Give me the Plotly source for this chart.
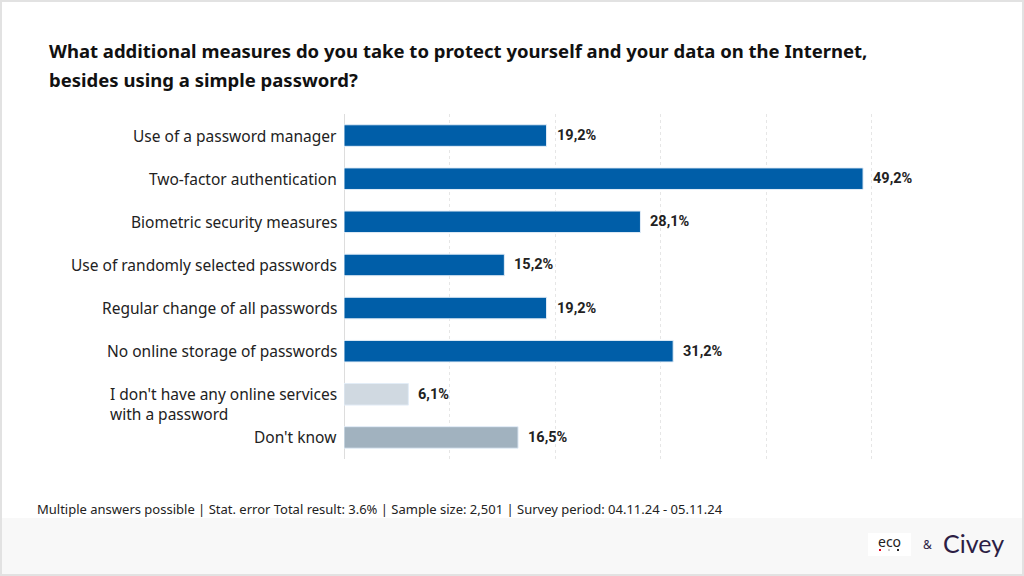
import plotly.graph_objects as go

categories = [
    "Use of a password manager",
    "Two-factor authentication",
    "Biometric security measures",
    "Use of randomly selected passwords",
    "Regular change of all passwords",
    "No online storage of passwords",
    "I don't have any online services<br>with a password",
    "Don't know",
]
values = [19.2, 49.2, 28.1, 15.2, 19.2, 31.2, 6.1, 16.5]
value_labels = ["19,2%", "49,2%", "28,1%", "15,2%", "19,2%", "31,2%", "6,1%", "16,5%"]
bar_colors = ["#005EA8"] * 6 + ["#D0D9E1", "#A1B2BF"]

title_lines = [
    "What additional measures do you take to protect yourself and your data on the Internet,",
    "besides using a simple password?",
]
footer = "Multiple answers possible | Stat. error Total result: 3.6% | Sample size: 2,501 | Survey period: 04.11.24 - 05.11.24"

W, H = 1024, 576
L, R, T, B = 344, 47, 114, 117

fig = go.Figure()
fig.add_trace(go.Bar(
    y=categories, x=values, orientation="h",
    marker=dict(color=bar_colors, line=dict(color="#E3EDF7", width=1)),
    width=0.5, hoverinfo="skip",
))

# value labels
for c, v, t in zip(categories, values, value_labels):
    fig.add_annotation(x=v, y=c, text="<b>" + t + "</b>", showarrow=False, xanchor="left",
                       xshift=8, font=dict(family="Roboto", size=14.5, color="#222222"),
                       xref="x", yref="y")
# category labels
for c in categories:
    multi = "<br>" in c
    fig.add_annotation(x=0, y=c, text=c, showarrow=False, xanchor="right",
                       align="left", xshift=-5, yshift=-10 if multi else 0,
                       font=dict(family="Noto Sans", size=15.5, color="#222222"),
                       xref="x", yref="y")

ph = H - T - B
pw = W - L - R
def px(xp):
    return (xp - L) / pw
def py(yp):
    return (H - B - yp) / ph

# footer background
fig.add_shape(type="rect", xref="paper", yref="paper", x0=px(0), x1=px(W),
              y0=py(H), y1=py(518), fillcolor="#F8F8F8", line=dict(width=0), layer="below")
# frame
fig.add_shape(type="rect", xref="paper", yref="paper", x0=px(1), x1=px(W - 1),
              y0=py(H - 1), y1=py(1), line=dict(color="#E2E2E2", width=2),
              fillcolor="rgba(0,0,0,0)")

fig.add_annotation(xref="paper", yref="paper", x=px(47), y=py(50), text="<b>" + title_lines[0] + "</b>",
                   showarrow=False, xanchor="left", yanchor="middle",
                   font=dict(family="Noto Sans", size=18.5, color="#111111"))
fig.add_annotation(xref="paper", yref="paper", x=px(47), y=py(79), text="<b>" + title_lines[1] + "</b>",
                   showarrow=False, xanchor="left", yanchor="middle",
                   font=dict(family="Noto Sans", size=18.5, color="#111111"))
fig.add_annotation(xref="paper", yref="paper", x=px(35), y=py(509), text=footer,
                   showarrow=False, xanchor="left", yanchor="middle",
                   font=dict(family="Noto Sans", size=13, color="#222222"))

# logos
fig.add_shape(type="rect", xref="paper", yref="paper", x0=px(868), x1=px(911), y0=py(556), y1=py(533),
              fillcolor="white", line=dict(width=0))
fig.add_annotation(xref="paper", yref="paper", x=px(889), y=py(541), text="eco",
                   showarrow=False, xanchor="center", yanchor="middle",
                   font=dict(family="Noto Sans", size=14, color="#222222"))
for xd, col in [(880, "#E3001B"), (889, "#CCCCCC"), (898, "#222222")]:
    fig.add_shape(type="rect", xref="paper", yref="paper", x0=px(xd - 1), x1=px(xd + 1),
                  y0=py(551), y1=py(549), fillcolor=col, line=dict(width=0))
fig.add_annotation(xref="paper", yref="paper", x=px(927), y=py(544), text="&",
                   showarrow=False, xanchor="center", yanchor="middle",
                   font=dict(family="Noto Sans", size=12, color="#2D1E45"))
fig.add_annotation(xref="paper", yref="paper", x=px(973), y=py(543), text="Civey",
                   showarrow=False, xanchor="center", yanchor="middle",
                   font=dict(family="Lato", size=25, color="#2D1E45"))

fig.update_layout(
    width=W, height=H,
    margin=dict(l=L, r=R, t=T, b=B),
    paper_bgcolor="white", plot_bgcolor="white",
    showlegend=False, bargap=0.5,
    xaxis=dict(range=[0, 60], dtick=10, showgrid=True, gridcolor="#E6E6E6", griddash="dot",
               gridwidth=1, showticklabels=False, zeroline=True, zerolinecolor="#DDDDDD",
               zerolinewidth=1, fixedrange=True),
    yaxis=dict(autorange="reversed", showticklabels=False, showgrid=False, fixedrange=True),
)

fig.write_html("out.html", post_script="document.body.style.margin='0';",
               config={"displayModeBar": False})
